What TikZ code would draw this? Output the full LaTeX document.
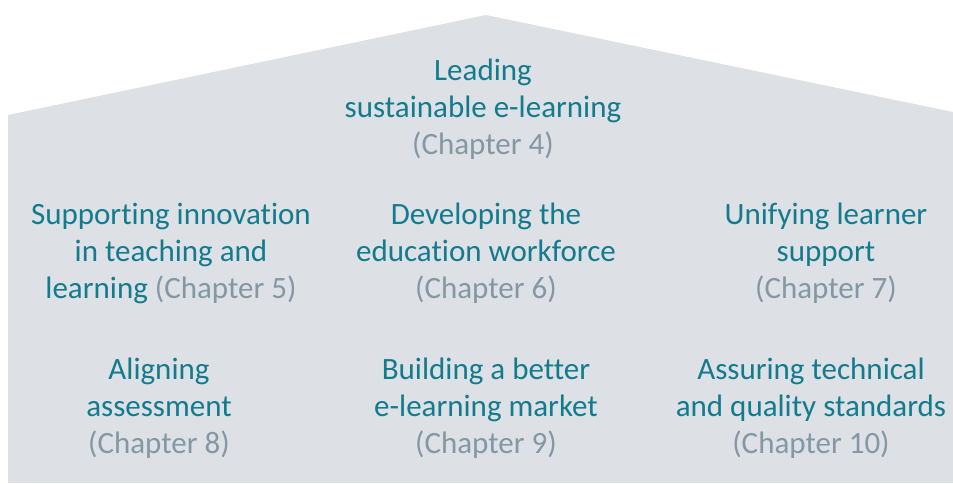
\documentclass[tikz,border=0pt]{standalone}
\usepackage{fontspec}
\setmainfont{Carlito}[Ligatures=NoCommon]
\definecolor{roofgray}{HTML}{DDE0E4}
\definecolor{titleteal}{HTML}{137B8E}
\definecolor{chapgray}{HTML}{8298A5}
\tikzset{pillar/.style={align=center, inner sep=0.75pt, text=titleteal, font=\fontsize{31}{37}\selectfont}}
\newcommand{\chap}[1]{\textcolor{chapgray}{(Chapter #1)}}
\begin{document}
\begin{tikzpicture}[x=1pt,y=1pt,yscale=-1,xscale=1]
\useasboundingbox (0,0) rectangle (953,483);
\fill[roofgray] (8,483) -- (8,115) -- (486,15) -- (953,112) -- (953,483) -- cycle;
% Text Node
\draw (483,109) node (lead) [pillar] {Leading\\sustainable e-learning\\\chap{4}};
% Text Node
\draw (171,253) node (innov) [pillar] {Supporting innovation\\in teaching and\\learning \chap{5}};
% Text Node
\draw (486,253) node (staff) [pillar] {Developing the\\education workforce\\\chap{6}};
% Text Node
\draw (826,253) node (support) [pillar] {Unifying learner\\support\\\chap{7}};
% Text Node
\draw (159,408) node (assess) [pillar] {Aligning\\assessment\\\chap{8}};
% Text Node
\draw (486,408) node (market) [pillar] {Building a better\\e-learning market\\\chap{9}};
% Text Node
\draw (811,408) node (quality) [pillar] {Assuring technical\\and quality standards\\\chap{10}};
\end{tikzpicture}
\end{document}
